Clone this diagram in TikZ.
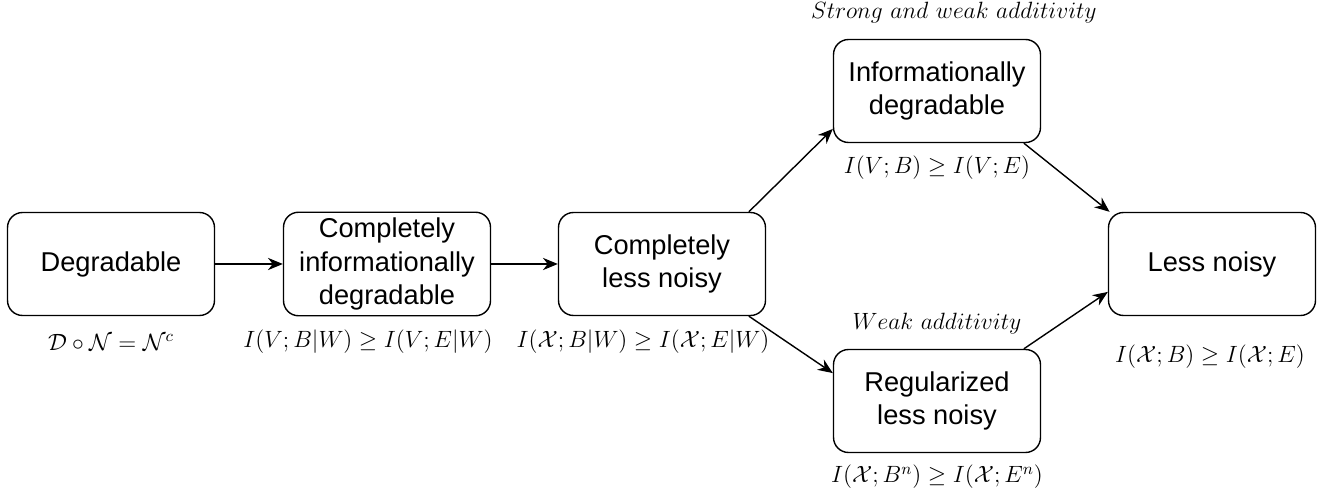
\RequirePackage{fix-cm}
\documentclass[tikz,border=0pt]{standalone}
\usepackage{fontspec}
\usepackage{amsmath,amssymb}
\usetikzlibrary{arrows.meta}
\newfontfamily\boxfont{Liberation Sans}
\begin{document}
\begin{tikzpicture}[x=0.02cm, y=-0.02cm,
    box/.style={rectangle, draw, rounded corners=0.3cm, line width=0.8pt, align=center, minimum width=4.14cm, minimum height=2.06cm, font=\boxfont\fontsize{15.5}{18.9}\selectfont},
    lbl/.style={inner sep=0pt, font=\fontsize{13.4}{16}\selectfont},
    arr/.style={-{Stealth[length=8.5pt,width=7pt]}, line width=0.8pt}]
        \useasboundingbox (0,0) rectangle (1325,499);
        \node (deg) at (111, 264) [box] {Degradable};
        \node (cid) at (387, 264) [box] {Completely\\informationally\\degradable};
        \node (cln) at (662, 264) [box] {Completely\\less noisy};
        \node (infdeg) at (937, 91) [box] {Informationally\\degradable};
        \node (reg) at (937, 401) [box] {Regularized\\less noisy};
        \node (ln) at (1212, 264) [box] {Less noisy};

        \node (degcond) at (111, 342) [lbl] {$\mathcal{D}\circ\mathcal{N}=\mathcal{N}^c$};
        \node (cidcond) at (368, 342) [lbl] {$I(V;B|W)\geq I(V;E|W)$};
        \node (clncond) at (643, 342) [lbl] {$I(\mathcal{X};B|W)\geq I(\mathcal{X};E|W)$};
        \node (infdegcond) at (937, 168) [lbl] {$I(V;B)\geq I(V;E)$};
        \node (infdegadd) at (954, 13) [lbl] {$Strong\ and\ weak\ additivity$};
        \node (regadd) at (937, 324) [lbl] {$Weak\ additivity$};
        \node (regcond) at (937, 477) [lbl] {$I(\mathcal{X};B^n)\geq I(\mathcal{X};E^n)$};
        \node (lncond) at (1210, 357) [lbl] {$I(\mathcal{X};B)\geq I(\mathcal{X};E)$};

        \draw[arr] (deg) -- (cid);
        \draw[arr] (cid) -- (cln);
        \draw[arr] (cln.31) -- (infdeg.200);
        \draw[arr] (cln.329) -- (reg.165);
        \draw[arr] (infdeg.329) -- (ln.153);
        \draw[arr] (reg.31) -- (ln.195);
\end{tikzpicture}
\end{document}
